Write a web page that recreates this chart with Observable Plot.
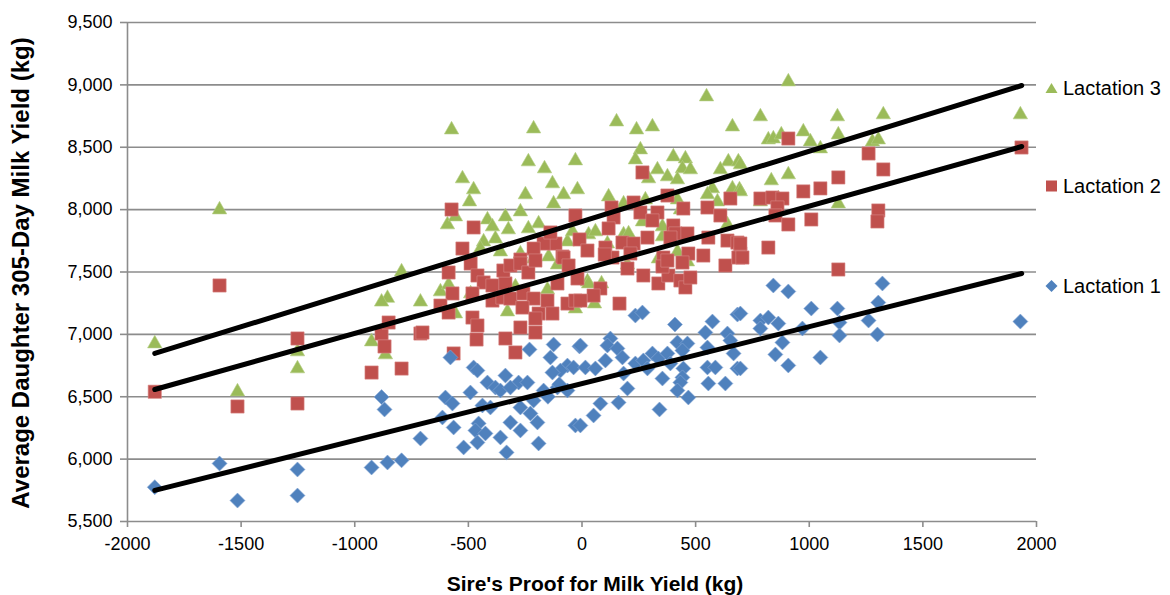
<!DOCTYPE html>
<html><head><meta charset="utf-8">
<script src="https://cdn.jsdelivr.net/npm/d3@7"></script>
<script src="https://cdn.jsdelivr.net/npm/@observablehq/plot@0.6"></script>
<style>
body{margin:0;background:#fff;font-family:"Liberation Sans",Arial,sans-serif;}
#wrap{position:relative;width:1170px;height:595px;overflow:hidden;}
.leg{position:absolute;left:1045px;font-size:20px;color:#000;display:flex;align-items:center;white-space:nowrap;line-height:22px;}
.leg svg{margin-right:5px;}
.ytitle{position:absolute;left:21px;top:273px;transform:translate(-50%,-50%) rotate(-90deg);font-weight:bold;font-size:24px;white-space:nowrap;line-height:24px;}
.xtitle{position:absolute;left:595px;top:584px;transform:translate(-50%,-50%);font-weight:bold;font-size:21px;white-space:nowrap;line-height:22px;}
</style></head>
<body><div id="wrap"></div>
<script>
// ---- data ----
const xTicks = [-2000,-1500,-1000,-500,0,500,1000,1500,2000];
const yTicks = [5500,6000,6500,7000,7500,8000,8500,9000,9500];
const seriesNames = ["Lactation 3","Lactation 2","Lactation 1"];

const lact1 = [[-1880,5775],[-1595,5965],[-1516,5668],[-1252,5917],[-1252,5708],[-926,5933],[-856,5973],[-794,5990],[-882,6497],[-869,6398],[-711,6165],
[-579,6815],[-125,6919],[-11,6903],[-231,6879],[-139,6815],[-477,6735],[-460,6710],[-64,6750],[-37,6735],[-95,6710],[-130,6694],[15,6735],[-337,6670],[-416,6614],[-381,6574],[-279,6614],[-240,6614],[-491,6534],[-359,6550],[-315,6574],[-601,6494],[-570,6446],[-438,6430],[-403,6414],[-213,6470],[-169,6550],[-108,6574],[-64,6550],[-271,6414],[-227,6366],[-196,6294],[-315,6294],[-271,6230],[-455,6286],[-469,6230],[-425,6206],[-359,6174],[-565,6254],[-614,6334],[-460,6134],[-521,6094],[-332,6054],[-191,6126],[-29,6270],[-150,6500],[-100,6600],
[235,7151],[266,7175],[409,7079],[574,7103],[684,7159],[543,7015],[640,7007],[125,6967],[112,6911],[156,6887],[178,6815],[420,6935],[464,6927],[442,6871],[552,6895],[653,6951],[667,6847],[103,6791],[59,6727],[-7,6911],[235,6767],[270,6791],[310,6847],[336,6807],[376,6847],[389,6767],[446,6727],[288,6727],[552,6735],[587,6735],[684,6727],[442,6655],[354,6646],[183,6686],[433,6614],[556,6606],[631,6606],[420,6550],[468,6494],[200,6566],[81,6446],[161,6454],[51,6350],[341,6398],[-7,6270],
[842,7392],[908,7344],[1322,7408],[1009,7207],[1124,7207],[1304,7255],[697,7167],[785,7111],[820,7135],[864,7087],[785,7047],[970,7047],[1133,7095],[1261,7111],[1929,7103],[882,6935],[1133,6991],[1300,6999],[851,6839],[1049,6815],[908,6751],[697,6727]];

const lact2 = [[-1595,7392],[-1880,6540],[-1516,6422],[-1252,6967],[-1252,6446],[-926,6694],[-882,7007],[-869,6903],[-851,7095],[-794,6726],[-711,7007],
[-574,8001],[-477,7857],[-526,7688],[-29,7953],[-11,7761],[24,7672],[-117,7728],[-169,7728],[-213,7688],[-86,7624],[-271,7600],[-139,7817],
[-587,7496],[-490,7568],[-460,7472],[-433,7416],[-394,7392],[-337,7408],[-346,7512],[-315,7552],[-271,7568],[-236,7496],[-205,7592],[-108,7408],[-81,7616],[-59,7552],[-20,7448],[-570,7328],[-623,7231],[-587,7175],[-482,7328],[-394,7271],[-350,7295],[-315,7287],[-258,7328],[-213,7287],[-262,7215],[-191,7167],[-205,7127],[-152,7271],[-130,7167],[-64,7247],[-29,7271],[-482,7135],[-460,7071],[-271,7055],[-205,7015],[-702,7015],[-464,6959],[-337,6967],[-565,6847],[-293,6855],
[266,8298],[130,8017],[139,7937],[117,7849],[227,8057],[257,7977],[332,7977],[310,7913],[376,8113],[402,7873],[411,7809],[446,8009],[552,8017],[609,7953],[653,8089],[103,7696],[178,7736],[227,7728],[288,7776],[389,7776],[464,7809],[556,7776],[640,7752],[684,7736],[697,7648],[213,7648],[358,7616],[468,7648],[534,7632],[134,7616],[100,7640],
[200,7528],[270,7472],[336,7408],[380,7472],[433,7432],[455,7376],[477,7456],[354,7544],[376,7592],[442,7576],[631,7552],[688,7616],[81,7368],[51,7311],[-7,7271],[165,7247],
[908,8570],[1261,8450],[1326,8322],[1934,8498],[1128,8258],[974,8146],[1049,8170],[785,8089],[838,8097],[882,8089],[860,8017],[851,7953],[908,7881],[1009,7921],[1304,7993],[1300,7905],[820,7696],[1128,7520],[697,7728],[706,7616]];

const lact3 = [[-1595,8009],[-794,7512],[-856,7300],[-882,7270],[-711,7270],[-1880,6935],[-1516,6550],[-1252,6871],[-1252,6735],[-926,6951],[-865,6847],
[-574,8650],[-213,8658],[-526,8258],[-477,8170],[-495,8073],[-236,8394],[-165,8338],[-130,8218],[-29,8402],[-20,8170],[-249,8130],[-81,8130],[-125,8057],[-271,7993],[-592,7889],[-557,7953],[-416,7929],[-337,7953],[-394,7873],[-324,7849],[-191,7897],[-236,7857],[-64,7752],[-433,7752],[-381,7776],[-447,7696],[-359,7672],[-271,7656],[-213,7616],[-147,7632],[-42,7833],[29,7809],
[-623,7352],[-587,7408],[-490,7336],[-328,7191],[-293,7392],[-152,7368],[-29,7215],[24,7432],[-557,7175],[-108,7568],
[548,8915],[152,8714],[240,8650],[310,8674],[662,8674],[257,8490],[235,8410],[402,8434],[455,8418],[442,8338],[477,8330],[332,8330],[293,8258],[376,8274],[420,8250],[644,8394],[688,8394],[609,8330],[662,8178],[693,8170],[574,8178],[552,8130],[117,8113],[183,8057],[279,8089],[420,8089],[596,8073],[59,7833],[183,7809],[205,7817],[354,7793],[266,7913],[354,7873],[433,8009],[640,7889],[112,7736],[420,7672],
[29,7416],[86,7416],[55,7255],[200,7568],[336,7616],[464,7592],
[908,9035],[785,8755],[1124,8755],[1326,8771],[1929,8771],[820,8570],[842,8578],[877,8610],[974,8634],[1005,8554],[1049,8498],[1128,8610],[1278,8554],[1304,8570],[697,8370],[833,8242],[908,8290],[697,8154],[864,8097],[1128,8057],[785,8073]];

const trendX = [-1880, 1935];
const trend1 = [5749, 7488];
const trend2 = [6558, 8506];
const trend3 = [6847, 8995];

// ---- styles ----
const colors = {"Lactation 1":"#4F81BD","Lactation 2":"#C0504D","Lactation 3":"#9BBB59"};
const tri = {draw(c,size){const r=Math.sqrt(size/Math.PI);c.moveTo(0,-r);c.lineTo(r,r*0.75);c.lineTo(-r,r*0.75);c.closePath();}};
const sq = {draw(c,size){const r=Math.sqrt(size/Math.PI)*0.92;c.rect(-r,-r,2*r,2*r);}};
const dia = {draw(c,size){const r=Math.sqrt(size/Math.PI);c.moveTo(0,-r);c.lineTo(r,0);c.lineTo(0,r);c.lineTo(-r,0);c.closePath();}};

const toObj = arr => arr.map(([x,y]) => ({x,y}));
const trendRows = [];
[["Lactation 1",trend1],["Lactation 2",trend2],["Lactation 3",trend3]].forEach(([s,v]) => trendX.forEach((x,i) => trendRows.push({s,x,y:v[i]})));

const grey = "#8c8c8c";
const chart = Plot.plot({
  width:1170, height:595,
  marginLeft:127, marginRight:134, marginTop:22, marginBottom:74,
  style:{fontFamily:'"Liberation Sans",Arial,sans-serif', fontSize:"18px", color:"#000", background:"#fff", overflow:"visible"},
  x:{domain:[-2000,2000]},
  y:{domain:[5500,9500]},
  marks:[
    Plot.gridY(yTicks,{stroke:grey, strokeOpacity:1, strokeWidth:1.6}),
    Plot.ruleX([-2000],{stroke:grey, strokeWidth:1.6}),
    Plot.axisY(yTicks,{tickSize:7, tickPadding:8, stroke:grey, strokeWidth:1.6, tickFormat:d3.format(","), label:null, fontSize:18}),
    Plot.axisX(xTicks,{tickSize:6, tickPadding:10, stroke:grey, strokeWidth:1.6, tickFormat:d=>String(d), label:null, fontSize:18}),
    Plot.dot(toObj(lact3),{x:"x", y:"y", symbol:tri, r:7.2, fill:colors["Lactation 3"], stroke:"#b5cf86", strokeWidth:0.6}),
    Plot.dot(toObj(lact2),{x:"x", y:"y", symbol:sq, r:7.2, fill:colors["Lactation 2"], stroke:"#d98a88", strokeWidth:0.6}),
    Plot.dot(toObj(lact1),{x:"x", y:"y", symbol:dia, r:7.5, fill:colors["Lactation 1"], stroke:"#8aaad6", strokeWidth:0.6}),
    Plot.line(trendRows,{x:"x", y:"y", z:"s", stroke:"#000", strokeWidth:5, strokeLinecap:"round"})
  ]
});
const wrap = document.getElementById("wrap");
wrap.appendChild(chart);

// titles
const yt = document.createElement("div"); yt.className="ytitle"; yt.textContent="Average Daughter 305-Day Milk Yield (kg)"; wrap.appendChild(yt);
const xt = document.createElement("div"); xt.className="xtitle"; xt.textContent="Sire's Proof for Milk Yield (kg)"; wrap.appendChild(xt);

// legend
const legY = {"Lactation 3":88,"Lactation 2":186,"Lactation 1":286};
const legSym = {"Lactation 3":'<polygon points="6,1 12,11 0,11"/>',"Lactation 2":'<rect x="0.5" y="0.5" width="11" height="11"/>',"Lactation 1":'<polygon points="6,0 12,6 6,12 0,6"/>'};
seriesNames.forEach(n => {
  const d = document.createElement("div");
  d.className="leg";
  d.style.top = (legY[n]-11)+"px";
  d.innerHTML = `<svg width="13" height="12" viewBox="0 0 12 12"><g fill="${colors[n]}">${legSym[n]}</g></svg><span>${n}</span>`;
  wrap.appendChild(d);
});
</script>
</body></html>
